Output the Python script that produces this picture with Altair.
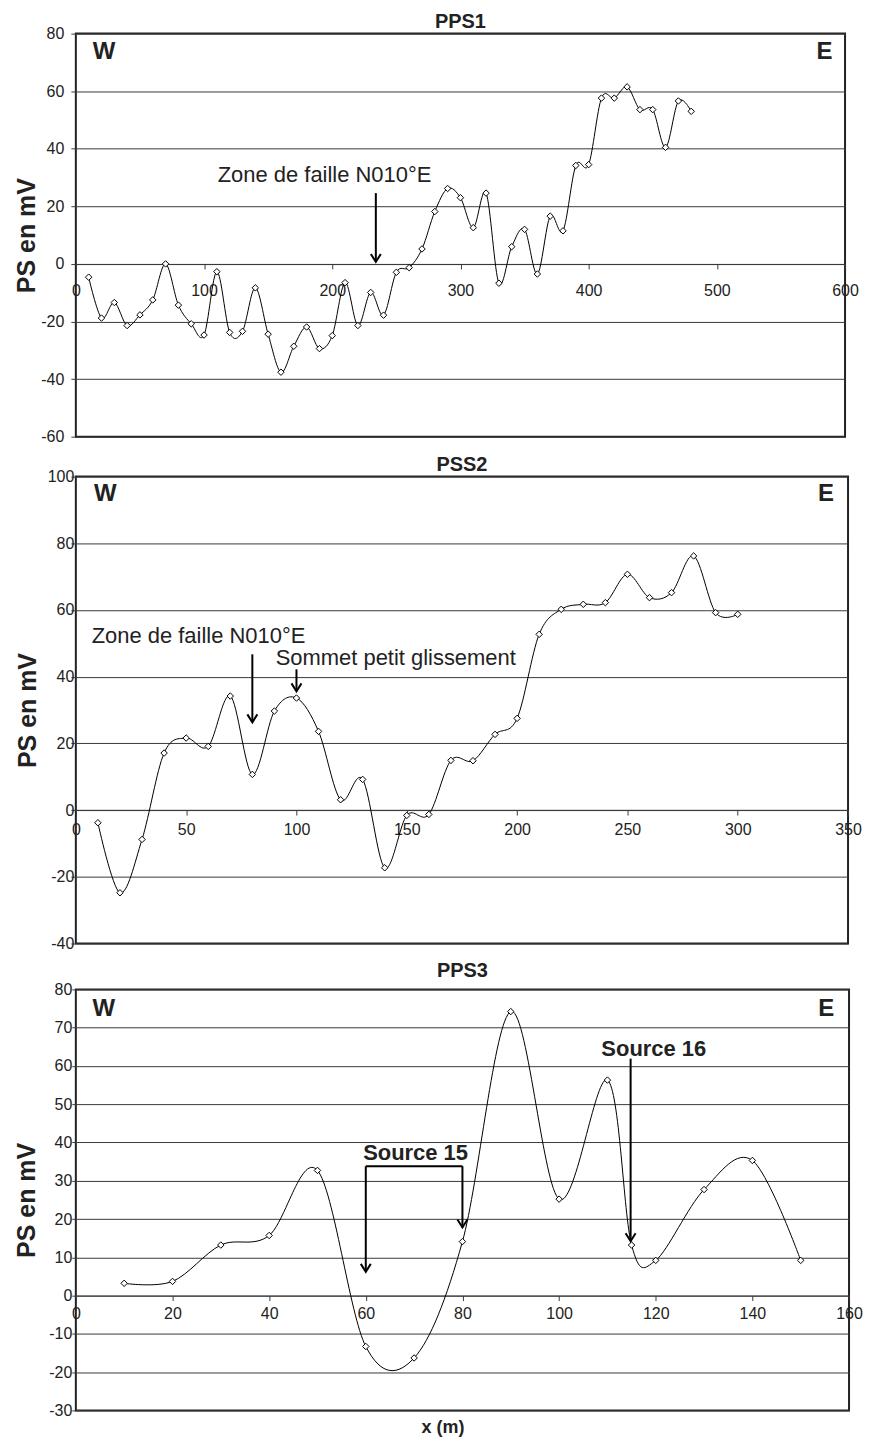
import altair as alt
import pandas as pd

FONT = "Liberation Sans"
GRID = "#3a3a3a"
TXT = "#222222"

# ---------------- PPS1 ----------------
pps1_x = [10, 20, 30, 40, 50, 60, 70, 80, 90, 100, 110, 120, 130, 140, 150, 160,
          170, 180, 190, 200, 210, 220, 230, 240, 250, 260, 270, 280, 290, 300,
          310, 320, 330, 340, 350, 360, 370, 380, 390, 400, 410, 420, 430, 440,
          450, 460, 470, 480]
pps1_y = [-4.6, -18.8, -13.4, -21.4, -17.7, -12.5, 0.0, -14.3, -20.8, -24.7,
          -2.7, -23.8, -23.4, -8.3, -24.4, -37.6, -28.6, -21.9, -29.4, -24.9,
          -6.5, -21.4, -9.9, -17.8, -2.9, -1.3, 5.2, 18.2, 26.2, 23.0,
          12.6, 24.6, -6.7, 6.0, 12.0, -3.5, 16.6, 11.5, 34.2, 34.5,
          57.6, 57.6, 61.5, 53.6, 53.6, 40.5, 56.6, 53.0]
pps1_xticks = [0, 100, 200, 300, 400, 500, 600]
pps1_yticks = [-60, -40, -20, 0, 20, 40, 60, 80]
pps1_note_text = ["Zone de faille N010°E"]
pps1_note_x = [194]
pps1_note_y = [30.8]
pps1_seg_x = [234]
pps1_seg_x2 = [234]
pps1_seg_y = [24.6]
pps1_seg_y2 = [1.0]
pps1_head_x = [234]
pps1_head_y = [0.7]
pps1_corner_text = ["W", "E"]
pps1_corner_x = [22, 584]
pps1_corner_y = [73.5, 73.5]

# ---------------- PSS2 ----------------
pss2_x = [10, 20, 30, 40, 50, 60, 70, 80, 90, 100, 110, 120, 130, 140, 150,
          160, 170, 180, 190, 200, 210, 220, 230, 240, 250, 260, 270, 280, 290, 300]
pss2_y = [-3.8, -24.8, -8.8, 17.1, 21.6, 19.1, 34.2, 10.7, 29.7, 33.6,
          23.6, 3.1, 9.2, -17.3, -1.6, -1.3, 14.9, 14.8, 22.7, 27.5,
          52.7, 60.2, 61.7, 62.2, 70.7, 63.7, 65.2, 76.2, 59.2, 58.7]
pss2_xticks = [0, 50, 100, 150, 200, 250, 300, 350]
pss2_yticks = [-40, -20, 0, 20, 40, 60, 80, 100]
pss2_note_text = ["Zone de faille N010°E", "Sommet petit glissement"]
pss2_note_x = [55.6, 145]
pss2_note_y = [52.3, 45.5]
pss2_seg_x = [80, 100]
pss2_seg_x2 = [80, 100]
pss2_seg_y = [46.7, 42.2]
pss2_seg_y2 = [26.6, 35.9]
pss2_head_x = [80, 100]
pss2_head_y = [26.3, 35.6]
pss2_corner_text = ["W", "E"]
pss2_corner_x = [13.3, 340]
pss2_corner_y = [94.8, 94.8]

# ---------------- PPS3 ----------------
pps3_x = [10, 20, 30, 40, 50, 60, 70, 80, 90, 100, 110, 115, 120, 130, 140, 150]
pps3_y = [3.2, 3.7, 13.2, 15.7, 32.7, -13.3, -16.3, 14.1, 74.2, 25.2,
          56.3, 13.2, 9.2, 27.7, 35.3, 9.2]
pps3_xticks = [0, 20, 40, 60, 80, 100, 120, 140, 160]
pps3_yticks = [-30, -20, -10, 0, 10, 20, 30, 40, 50, 60, 70, 80]
pps3_note_text = ["Source 15", "Source 16"]
pps3_note_x = [70.3, 119.6]
pps3_note_y = [37.2, 64.5]
pps3_seg_x = [60, 60, 80, 114.8]
pps3_seg_x2 = [80, 60, 80, 114.8]
pps3_seg_y = [33.8, 33.8, 33.8, 61.9]
pps3_seg_y2 = [33.8, 6.4, 17.8, 14.4]
pps3_head_x = [60, 80, 114.8]
pps3_head_y = [6.2, 17.8, 14.2]
pps3_corner_text = ["W", "E"]
pps3_corner_x = [5.8, 155.3]
pps3_corner_y = [74.8, 74.8]

CHEVRON = "M-1,-1.6L0,0L1,-1.6"


def make_panel(title, xs, ys, xticks, yticks, width, height,
               note_text, note_x, note_y, note_bold, note_size,
               seg_x, seg_x2, seg_y, seg_y2, head_x, head_y,
               corner_text, corner_x, corner_y,
               y_title_pad, y_label_pad, y_tick, x_label_pad, title_offset,
               x_title=None):
    x_domain = [xticks[0], xticks[-1]]
    y_domain = [yticks[0], yticks[-1]]
    zero_from_bottom = height * (0 - y_domain[0]) / (y_domain[1] - y_domain[0])

    df = pd.DataFrame({"x": xs, "y": ys})
    notes = pd.DataFrame({"x": note_x, "y": note_y, "t": note_text})
    segs = pd.DataFrame({"x": seg_x, "x2": seg_x2, "y": seg_y, "y2": seg_y2})
    heads = pd.DataFrame({"x": head_x, "y": head_y})
    corners = pd.DataFrame({"x": corner_x, "y": corner_y, "t": corner_text})

    xscale = alt.Scale(domain=x_domain, nice=False, zero=False)
    yscale = alt.Scale(domain=y_domain, nice=False, zero=False)

    xaxis_kw = dict(values=xticks, orient="bottom", offset=-zero_from_bottom,
                    grid=False, domain=True, domainColor=GRID, domainWidth=1,
                    ticks=True, tickSize=5, tickColor=GRID,
                    labelPadding=x_label_pad, labelFont=FONT, labelFontSize=16,
                    labelColor=TXT, labelFlush=False, labelOverlap=False,
                    labelExpr="'' + datum.value")
    if x_title:
        xaxis = alt.Axis(title=x_title, titleFont=FONT, titleFontSize=18,
                         titleFontWeight="bold", titleColor=TXT,
                         titleY=zero_from_bottom + 8, titleBaseline="top",
                         titleX=width / 2 - 20, **xaxis_kw)
    else:
        xaxis = alt.Axis(title=None, **xaxis_kw)
    yaxis = alt.Axis(values=yticks, title="PS en mV", grid=True, gridColor=GRID,
                     gridWidth=1, domain=False, ticks=True, tickSize=y_tick,
                     tickColor=GRID, labelPadding=y_label_pad, labelFont=FONT,
                     labelFontSize=16, labelColor=TXT, labelFlush=False,
                     labelOverlap=False, labelExpr="'' + datum.value",
                     titleFont=FONT, titleFontSize=25, titleFontWeight="bold",
                     titleColor=TXT, titlePadding=y_title_pad)

    X = alt.X("x:Q", scale=xscale, axis=xaxis)
    Y = alt.Y("y:Q", scale=yscale, axis=yaxis)

    line = alt.Chart(df).mark_line(interpolate="cardinal", color="black",
                                   strokeWidth=1).encode(x=X, y=Y)
    pts = alt.Chart(df).mark_point(shape="diamond", size=42, filled=True,
                                   fill="white", stroke="black", strokeWidth=1,
                                   opacity=1).encode(x=X, y=Y)
    rules = alt.Chart(segs).mark_rule(color="black", strokeWidth=2).encode(
        x=X, x2="x2:Q", y=Y, y2="y2:Q")
    arrowheads = alt.Chart(heads).mark_point(shape=CHEVRON, size=100, filled=False,
                                             color="black", strokeWidth=2,
                                             opacity=1).encode(x=X, y=Y)
    note_layer = alt.Chart(notes).mark_text(
        font=FONT, fontSize=note_size, fontWeight="bold" if note_bold else "normal",
        color=TXT, align="center", baseline="middle").encode(x=X, y=Y, text="t:N")
    corner_layer = alt.Chart(corners).mark_text(
        font=FONT, fontSize=24, fontWeight="bold", color=TXT, align="center",
        baseline="middle").encode(x=X, y=Y, text="t:N")

    chart = alt.layer(line, pts, rules, arrowheads, note_layer, corner_layer).properties(
        width=width, height=height,
        title=alt.TitleParams(title, font=FONT, fontSize=20, fontWeight="bold",
                              color=TXT, anchor="middle", offset=title_offset),
    )
    return chart


p1 = make_panel("PPS1", pps1_x, pps1_y, pps1_xticks, pps1_yticks, 771, 404,
                pps1_note_text, pps1_note_x, pps1_note_y, False, 22,
                pps1_seg_x, pps1_seg_x2, pps1_seg_y, pps1_seg_y2,
                pps1_head_x, pps1_head_y,
                pps1_corner_text, pps1_corner_x, pps1_corner_y,
                y_title_pad=1, y_label_pad=7, y_tick=5, x_label_pad=14,
                title_offset=-6)
p2 = make_panel("PSS2", pss2_x, pss2_y, pss2_xticks, pss2_yticks, 774, 468,
                pss2_note_text, pss2_note_x, pss2_note_y, False, 22,
                pss2_seg_x, pss2_seg_x2, pss2_seg_y, pss2_seg_y2,
                pss2_head_x, pss2_head_y,
                pss2_corner_text, pss2_corner_x, pss2_corner_y,
                y_title_pad=7, y_label_pad=-3, y_tick=5, x_label_pad=6,
                title_offset=-6)
p3 = make_panel("PPS3", pps3_x, pps3_y, pps3_xticks, pps3_yticks, 775, 422,
                pps3_note_text, pps3_note_x, pps3_note_y, True, 22,
                pps3_seg_x, pps3_seg_x2, pps3_seg_y, pps3_seg_y2,
                pps3_head_x, pps3_head_y,
                pps3_corner_text, pps3_corner_x, pps3_corner_y,
                y_title_pad=9, y_label_pad=0, y_tick=4, x_label_pad=5,
                title_offset=0, x_title="x (m)")

chart = alt.vconcat(p1, p2, p3, spacing=8).properties(
    padding={"left": 5, "top": 1, "right": 0, "bottom": 0},
    background="white",
).configure_view(stroke="#222222", strokeWidth=2)

chart.save("out.html", embed_options={"renderer": "svg", "actions": False})
